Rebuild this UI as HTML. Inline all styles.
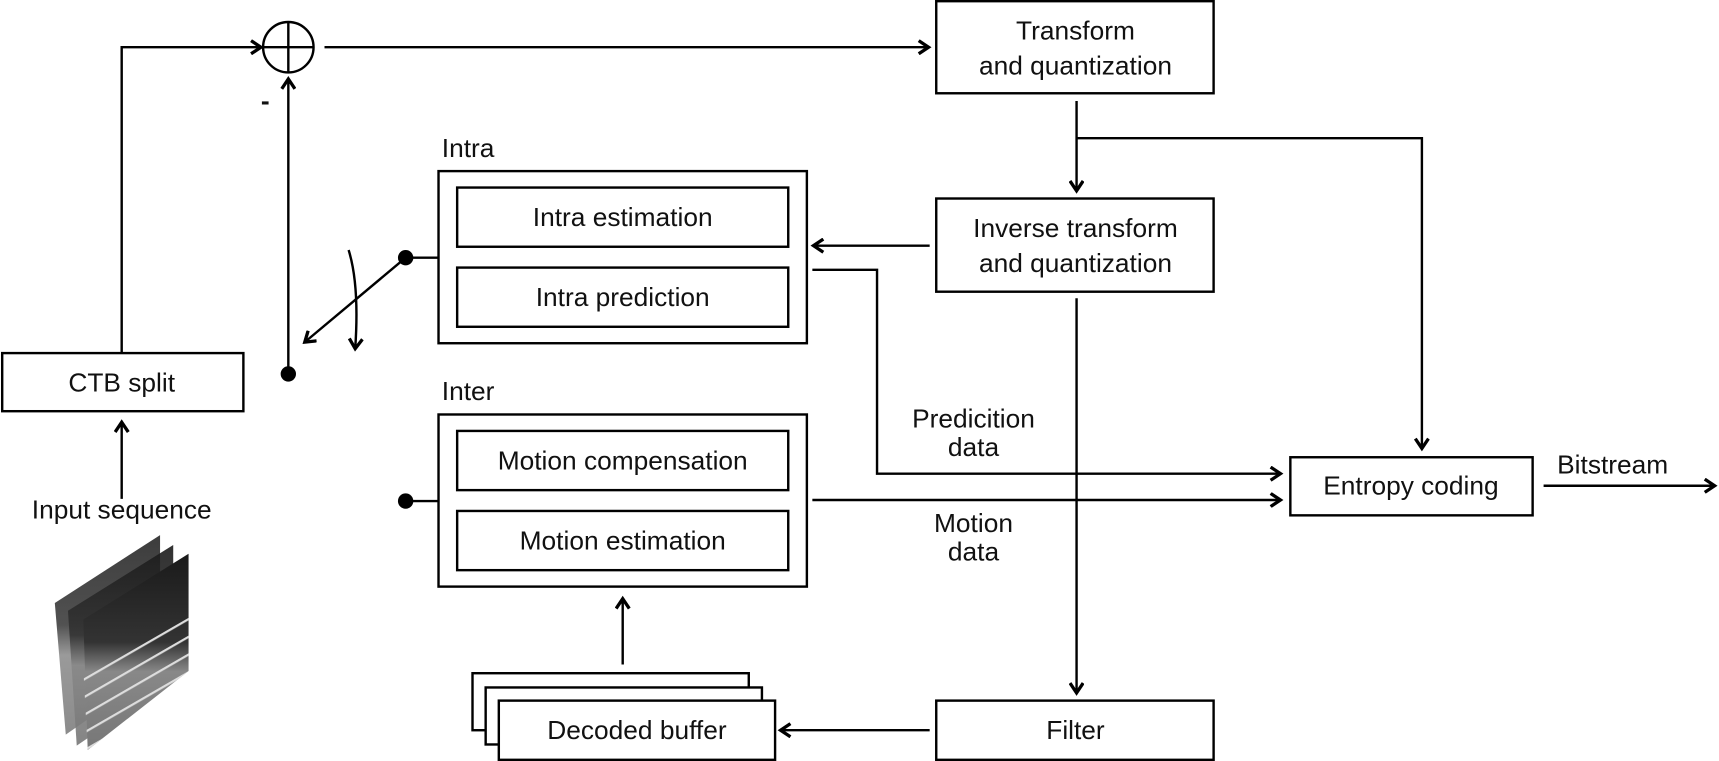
<!DOCTYPE html>
<html><head><meta charset="utf-8"><style>
html,body{margin:0;padding:0;background:#fff;}
svg{display:block;}
text{font-family:"Liberation Sans",sans-serif;font-size:24px;fill:#111;}
</style></head><body>
<svg width="1719" height="761" viewBox="0 0 1568 694" xmlns="http://www.w3.org/2000/svg">
<defs>
<marker id="a" markerWidth="14" markerHeight="14" refX="11" refY="7" orient="auto" markerUnits="userSpaceOnUse">
<path d="M2,1 L11,7 L2,13" fill="none" stroke="#000" stroke-width="3"/>
</marker>
<linearGradient id="g1" x1="0" y1="0" x2="0" y2="1">
<stop offset="0" stop-color="#1a1a1a"/><stop offset="0.45" stop-color="#333"/><stop offset="0.6" stop-color="#888"/><stop offset="1" stop-color="#777"/>
</linearGradient>
<pattern id="st" width="10" height="14" patternUnits="userSpaceOnUse" patternTransform="rotate(-30)">
<rect y="0" width="10" height="2" fill="#ddd"/>
</pattern>
</defs>
<g fill="none" stroke="#000" stroke-width="2.2">
<rect x="2" y="322" width="220" height="53"/>
<rect x="854" y="1" width="253" height="84"/>
<rect x="854" y="181" width="253" height="85"/>
<rect x="1177" y="417" width="221" height="53"/>
<rect x="854" y="639" width="253" height="54"/>
<rect x="400" y="156" width="336" height="157"/>
<rect x="417" y="171" width="302" height="54"/>
<rect x="417" y="244" width="302" height="54"/>
<rect x="400" y="378" width="336" height="157"/>
<rect x="417" y="393" width="302" height="54"/>
<rect x="417" y="466" width="302" height="54"/>
<rect x="431" y="614" width="252" height="52" fill="#fff"/>
<rect x="443" y="627" width="252" height="52" fill="#fff"/>
<rect x="455" y="639" width="252" height="54" fill="#fff"/>
<circle cx="263" cy="43" r="23"/>
<line x1="240" y1="43" x2="286" y2="43"/><line x1="263" y1="20" x2="263" y2="66"/>
<polyline points="111,322 111,43 238,43" marker-end="url(#a)"/>
<line x1="296" y1="43" x2="847" y2="43" marker-end="url(#a)"/>
<line x1="263" y1="340" x2="263" y2="72" marker-end="url(#a)"/>
<line x1="111" y1="455" x2="111" y2="385" marker-end="url(#a)"/>
<line x1="982" y1="92" x2="982" y2="174" marker-end="url(#a)"/>
<polyline points="982,126 1297,126 1297,409" marker-end="url(#a)"/>
<line x1="848" y1="224" x2="742" y2="224" marker-end="url(#a)"/>
<polyline points="741,246 800,246 800,432 1168,432" marker-end="url(#a)"/>
<line x1="741" y1="456" x2="1168" y2="456" marker-end="url(#a)"/>
<line x1="982" y1="272" x2="982" y2="632" marker-end="url(#a)"/>
<line x1="848" y1="666" x2="712" y2="666" marker-end="url(#a)"/>
<line x1="568" y1="606" x2="568" y2="546" marker-end="url(#a)"/>
<line x1="1408" y1="443" x2="1564" y2="443" marker-end="url(#a)"/>
<line x1="370" y1="235" x2="400" y2="235"/>
<line x1="370" y1="457" x2="400" y2="457"/>
<line x1="370" y1="235" x2="278" y2="312" marker-end="url(#a)"/>
<path d="M318,228 Q328,260 324,318" marker-end="url(#a)"/>
</g>
<g fill="#000">
<circle cx="370" cy="235" r="7"/><circle cx="370" cy="457" r="7"/><circle cx="263" cy="341" r="7"/>
</g>
<g>
<polygon points="50,550 146,488 146,610 60,670" fill="url(#g1)" opacity="0.85"/>
<polygon points="62,557 158,497 158,620 70,680" fill="url(#g1)" opacity="0.9"/>
<polygon points="76,565 172,505 172,612 80,684" fill="url(#g1)"/>
<polygon points="76,610 172,560 172,612 80,684" fill="url(#st)"/>
</g>
<g text-anchor="middle">
<text x="111" y="357">CTB split</text>
<text x="111" y="473">Input sequence</text>
<text x="981" y="36">Transform</text>
<text x="981" y="68">and quantization</text>
<text x="981" y="216">Inverse transform</text>
<text x="981" y="248">and quantization</text>
<text x="1287" y="451">Entropy coding</text>
<text x="981" y="674">Filter</text>
<text x="568" y="206">Intra estimation</text>
<text x="568" y="279">Intra prediction</text>
<text x="568" y="428">Motion compensation</text>
<text x="568" y="501">Motion estimation</text>
<text x="581" y="674">Decoded buffer</text>
<text x="888" y="390">Predicition</text>
<text x="888" y="416">data</text>
<text x="888" y="485">Motion</text>
<text x="888" y="511">data</text>
<text x="1471" y="432">Bitstream</text>
</g>
<text x="403" y="143">Intra</text>
<text x="403" y="365">Inter</text>
<text x="238" y="100" style="font-weight:bold">-</text>
</svg>
</body></html>
